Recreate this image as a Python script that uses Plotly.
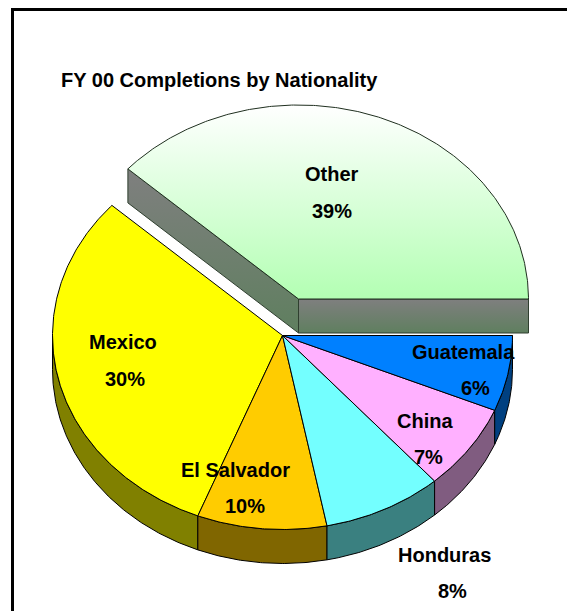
import numpy as np
import plotly.graph_objects as go

# Data (starting from the 3 o'clock position, going counter-clockwise over the top)
categories = ["Other", "Mexico", "El Salvador", "Honduras", "China", "Guatemala"]
shares = [38.3, 30.7, 9.1, 8.4, 7.2, 6.3]
percent_labels = ["39%", "30%", "10%", "8%", "7%", "6%"]
top_colors = ["#b3ffb3", "#ffff00", "#ffcc00", "#73ffff", "#ffb0ff", "#0080ff"]
side_colors = ["#6a7f6a", "#808000", "#806600", "#3a8080", "#805c80", "#004080"]
title_text = "FY 00 Completions by Nationality"

# Layout constants (pixels)
W, H = 567, 611
CX, CY, RX, RY, DEPTH = 282.5, 335.5, 230.0, 194.0, 34.0
EX_CX, EX_CY = 298.5, 299.0
FONT = "Liberation Sans, Arial, sans-serif"
FONT_SIZE = 20
LABEL_ANCHORS = {
    "Other": (332, 174, 332, 211),
    "Mexico": (123, 342, 125, 379),
    "El Salvador": (235.5, 470, 245, 506),
    "Honduras": (444, 555, 452, 591),
    "China": (425, 421, 428, 457),
    "Guatemala": (463, 352, 475, 388),
}

edges = np.concatenate([[0.0], np.cumsum(shares)]) / sum(shares) * 360.0


def arc(a0, a1, cx, cy, dy=0.0):
    t = np.radians(np.linspace(a0, a1, max(2, int(abs(a1 - a0) * 2) + 1)))
    return cx + RX * np.cos(t), cy - RY * np.sin(t) + dy


def poly(xs, ys, fill, line="#000000", width=1.0, gradient=None):
    kw = dict(fillgradient=gradient) if gradient else dict(fillcolor=fill)
    return go.Scatter(x=list(xs), y=list(ys), mode="lines", fill="toself",
                      line=dict(color=line, width=width), hoverinfo="skip",
                      showlegend=False, **kw)


fig = go.Figure()

# Rim of the main pie: only the part facing the viewer (180 to 360 degrees)
for i in range(1, len(shares)):
    a0, a1 = max(edges[i], 180.0), edges[i + 1]
    if a1 <= a0:
        continue
    xt, yt = arc(a0, a1, CX, CY)
    xb, yb = arc(a0, a1, CX, CY, DEPTH)
    fig.add_trace(poly(np.r_[xt, xb[::-1], xt[0]], np.r_[yt, yb[::-1], yt[0]], side_colors[i]))

# Top faces of the main pie
for i in range(1, len(shares)):
    xa, ya = arc(edges[i], edges[i + 1], CX, CY)
    fig.add_trace(poly(np.r_[CX, xa, CX], np.r_[CY, ya, CY], top_colors[i]))

# Exploded slice: cut faces and top
side_grad = dict(type="vertical", colorscale=[[0, "#5f7f5f"], [1, "#7f7f7f"]])
a_end = edges[1]
xe, ye = arc(a_end, a_end, EX_CX, EX_CY)
fig.add_trace(poly([xe[0], EX_CX, EX_CX, xe[0], xe[0]],
                   [ye[0], EX_CY, EX_CY + DEPTH, ye[0] + DEPTH, ye[0]],
                   None, width=1.0, line="#2f3f2f", gradient=side_grad))
xr, yr = arc(0, 0, EX_CX, EX_CY)
fig.add_trace(poly([EX_CX, xr[0], xr[0], EX_CX, EX_CX],
                   [EX_CY, yr[0], yr[0] + DEPTH, EX_CY + DEPTH, EX_CY],
                   None, width=1.0, line="#2f3f2f", gradient=side_grad))
xa, ya = arc(0, a_end, EX_CX, EX_CY)
top_grad = dict(type="vertical", colorscale=[[0, top_colors[0]], [1, "#ffffff"]])
fig.add_trace(poly(np.r_[EX_CX, xa, EX_CX], np.r_[EX_CY, ya, EX_CY], None,
                   line="#1f2f1f", gradient=top_grad))

# Labels: name above, percent below
annotations = []
for name, pct in zip(categories, percent_labels):
    x1, y1, x2, y2 = LABEL_ANCHORS[name]
    for x, y, text in ((x1, y1, name), (x2, y2, pct)):
        annotations.append(dict(x=x, y=y, text=text, showarrow=False, xref="x", yref="y",
                                xanchor="center", yanchor="middle",
                                font=dict(family=FONT, size=FONT_SIZE, weight="bold", color="#000000")))
annotations.append(dict(x=59, y=80, text=title_text, showarrow=False, xref="x", yref="y",
                        xanchor="left", yanchor="middle",
                        font=dict(family=FONT, size=FONT_SIZE, weight="bold", color="#000000")))

# Partial frame: top and left rules
shapes = [
    dict(type="line", x0=11, x1=W, y0=9.5, y1=9.5, line=dict(color="#000000", width=3), xref="x", yref="y"),
    dict(type="line", x0=12.5, x1=12.5, y0=8, y1=H, line=dict(color="#000000", width=3), xref="x", yref="y"),
]

fig.update_layout(
    width=W, height=H, margin=dict(l=0, r=0, t=0, b=0),
    paper_bgcolor="#ffffff", plot_bgcolor="#ffffff",
    xaxis=dict(range=[0, W], visible=False, fixedrange=True),
    yaxis=dict(range=[H, 0], visible=False, fixedrange=True),
    annotations=annotations, shapes=shapes, showlegend=False,
)
fig.write_html("out.html", config={"displayModeBar": False},
               post_script="document.body.style.margin='0';document.body.style.overflow='hidden';")
